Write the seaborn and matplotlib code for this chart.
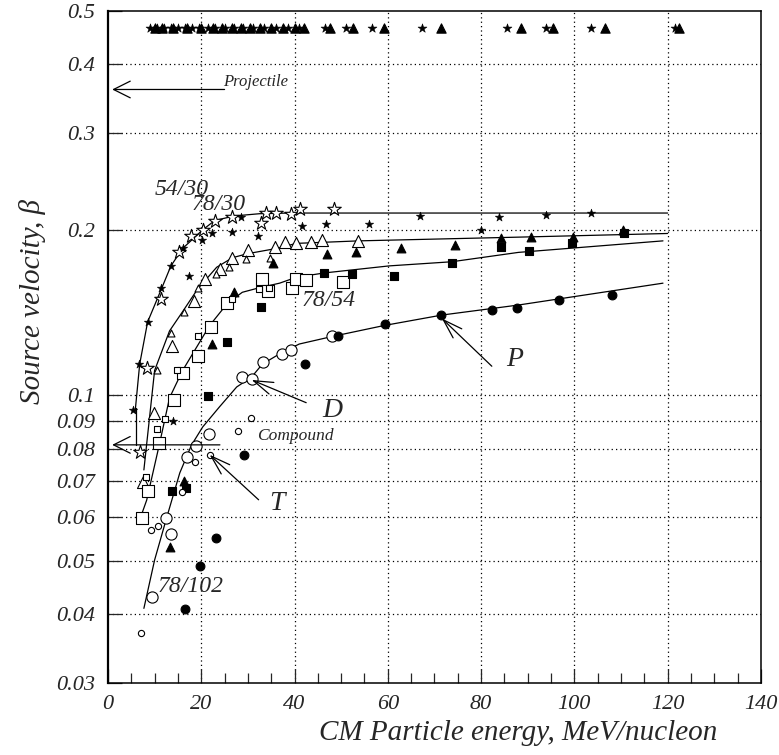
"""
Source velocity vs CM particle energy for the 54/30, 78/30, 78/54 and 78/102 systems,
with fitted curves and P / D / T markers.
"""

import numpy as np
import pandas as pd
import matplotlib
matplotlib.use('Agg')
import matplotlib.pyplot as plt
import seaborn as sns

# ---- data ----
# 54/30 : stars
star_open_x = [6.8, 8.3, 11.3, 15.2, 17.7, 20.3, 22.9, 26.5, 32.9, 33.8, 36.1, 39.3, 41.2, 48.5]
star_open_y = [0.079, 0.112, 0.150, 0.182, 0.195, 0.200, 0.208, 0.211, 0.206, 0.215, 0.215, 0.214, 0.218, 0.218]
star_fill_x = [5.3, 6.6, 8.5, 11.3, 13.5, 13.9, 16.0, 17.3, 20.1, 22.4, 26.7, 28.6, 32.1, 41.5, 46.8,
               56.0, 66.9, 79.9, 83.8, 94.0, 103.6]
star_fill_y = [0.094, 0.114, 0.136, 0.157, 0.172, 0.090, 0.185, 0.165, 0.192, 0.197, 0.198, 0.211, 0.195,
               0.203, 0.205, 0.205, 0.212, 0.200, 0.211, 0.213, 0.215]

# 78/30 : triangles
tri_open_x = [7.5, 9.8, 13.7, 18.4, 20.7, 24.1, 26.7, 30.1, 35.9, 38.0, 40.4, 43.6, 45.9, 53.6]
tri_open_y = [0.0696, 0.093, 0.123, 0.1485, 0.163, 0.170, 0.178, 0.184, 0.186, 0.190, 0.189, 0.190, 0.192, 0.191]
tri_small_x = [10.5, 13.5, 16.2, 19.2, 23.1, 25.9, 29.5, 34.8]
tri_small_y = [0.111, 0.130, 0.142, 0.157, 0.166, 0.171, 0.177, 0.178]
tri_fill_x = [13.2, 16.2, 22.4, 27.1, 35.3, 47.0, 53.2, 62.8, 74.4, 84.2, 90.8, 99.6, 110.5]
tri_fill_y = [0.053, 0.070, 0.124, 0.154, 0.174, 0.181, 0.182, 0.185, 0.188, 0.193, 0.194, 0.194, 0.200]

# 78/54 : squares
sq_open_x = [7.3, 8.5, 10.9, 14.1, 16.0, 19.4, 22.0, 25.6, 33.1, 34.4, 39.5, 40.4, 42.5, 50.4]
sq_open_y = [0.0599, 0.067, 0.082, 0.098, 0.110, 0.118, 0.133, 0.147, 0.163, 0.155, 0.157, 0.163, 0.162, 0.161]
sq_small_x = [8.1, 10.5, 12.2, 14.7, 19.2, 26.5, 32.3, 34.6]
sq_small_y = [0.071, 0.087, 0.0906, 0.111, 0.128, 0.150, 0.156, 0.157]
sq_fill_x = [13.7, 16.7, 21.4, 25.6, 32.9, 46.4, 52.4, 61.3, 73.7, 84.2, 90.2, 99.4, 110.7]
sq_fill_y = [0.067, 0.0679, 0.0997, 0.125, 0.145, 0.167, 0.166, 0.165, 0.174, 0.186, 0.183, 0.189, 0.197]

# 78/102 : circles
circ_open_x = [9.4, 12.4, 13.5, 16.9, 18.8, 21.6, 28.8, 30.8, 33.3, 37.4, 39.3, 48.1]
circ_open_y = [0.043, 0.0599, 0.056, 0.0773, 0.081, 0.085, 0.108, 0.107, 0.115, 0.119, 0.121, 0.128]
circ_small_x = [7.1, 9.2, 10.7, 15.8, 18.6, 21.8, 27.8, 30.6]
circ_small_y = [0.037, 0.057, 0.058, 0.0667, 0.0757, 0.078, 0.086, 0.091]
circ_fill_x = [16.5, 19.7, 23.1, 29.1, 42.3, 49.4, 59.4, 71.4, 82.3, 87.6, 96.8, 108.1]
circ_fill_y = [0.0409, 0.049, 0.055, 0.078, 0.114, 0.128, 0.135, 0.140, 0.143, 0.144, 0.149, 0.152]

# strip of markers along the top
top_y = 0.465
top_star_x = [9.0, 10.5, 12.0, 13.5, 15.0, 16.5, 18.0, 19.5, 21.5, 23.0, 25.0, 27.0, 29.0, 31.0, 33.5,
              36.0, 38.5, 41.0, 46.5, 51.0, 56.6, 67.3, 85.5, 94.0, 103.6, 121.5]
top_tri_x = [10.0, 11.5, 14.0, 17.0, 20.0, 22.5, 24.5, 26.5, 28.5, 30.5, 32.5, 35.0, 37.5, 40.0, 42.0,
             47.5, 52.5, 59.2, 71.4, 88.5, 95.5, 106.6, 122.5]

# fitted curves
fit_5430_x = [5.8, 6.8, 8.5, 11.3, 13.5, 16.0, 20.3, 22.9, 27.1, 32.5, 38.9, 120.0]
fit_5430_y = [0.093, 0.114, 0.136, 0.155, 0.172, 0.185, 0.200, 0.208, 0.212, 0.214, 0.2146, 0.2146]
fit_7830_x = [7.7, 10.0, 13.2, 16.0, 19.2, 23.3, 26.7, 29.9, 36.1, 40.4, 53.8, 88.0, 120.0]
fit_7830_y = [0.0732, 0.111, 0.131, 0.142, 0.156, 0.171, 0.178, 0.181, 0.185, 0.189, 0.191, 0.194, 0.197]
fit_7854_x = [6.8, 8.3, 11.1, 13.2, 16.0, 21.8, 25.6, 28.8, 32.5, 36.8, 40.4, 46.4, 60.3, 73.7, 88.0, 119.0]
fit_7854_y = [0.0594, 0.0645, 0.082, 0.099, 0.111, 0.134, 0.147, 0.154, 0.157, 0.160, 0.164, 0.167,
              0.172, 0.175, 0.182, 0.191]
fit_78102_x = [7.7, 10.0, 12.6, 15.4, 17.9, 20.3, 23.9, 27.6, 30.8, 33.1, 36.8, 41.0, 48.1, 59.2, 71.6,
               88.0, 119.0]
fit_78102_y = [0.041, 0.0502, 0.060, 0.0723, 0.0812, 0.0876, 0.0953, 0.1036, 0.108, 0.114, 0.119, 0.124,
               0.128, 0.134, 0.140, 0.146, 0.160]

y_ticks = [0.03, 0.04, 0.05, 0.06, 0.07, 0.08, 0.09, 0.1, 0.2, 0.3, 0.4, 0.5]
y_tick_labels = ['0.03', '0.04', '0.05', '0.06', '0.07', '0.08', '0.09', '0.1', '0.2', '0.3', '0.4', '0.5']
x_ticks = [0, 20, 40, 60, 80, 100, 120, 140]

# ---- plotting ----
sns.set_style('ticks')
plt.rcParams['font.family'] = ['Liberation Serif', 'DejaVu Serif']
plt.rcParams['font.style'] = 'italic'

fig = plt.figure(figsize=(7.79, 7.55), dpi=100)
ax = fig.add_axes([0.1386, 0.0954, 0.8382, 0.890])

ax.set_yscale('log')
ax.set_xlim(0, 140)
ax.set_ylim(0.03, 0.5)

# grid
for gx in x_ticks[1:-1]:
    ax.axvline(gx, color='black', lw=0.9, ls=(0, (1, 2.5)), zorder=0)
for gy in y_ticks[1:-1]:
    ax.axhline(gy, color='black', lw=0.9, ls=(0, (1, 2.5)), zorder=0)

# fitted curves
for cx, cy in [(fit_5430_x, fit_5430_y), (fit_7830_x, fit_7830_y),
               (fit_7854_x, fit_7854_y), (fit_78102_x, fit_78102_y)]:
    sns.lineplot(x=cx, y=cy, ax=ax, color='black', lw=0.9, sort=True, estimator=None, zorder=2)


def pts(xs, ys, marker, size, filled, lw=0.8):
    sns.scatterplot(x=xs, y=ys, ax=ax, marker=marker, s=size,
                    facecolor='black' if filled else 'white', edgecolor='black',
                    linewidth=lw, zorder=3)


pts(star_open_x, star_open_y, '*', 105, False, 0.8)
pts(star_fill_x, star_fill_y, '*', 40, True, 0.4)
pts(tri_open_x, tri_open_y, '^', 75, False)
pts(tri_small_x, tri_small_y, '^', 25, False)
pts(tri_fill_x, tri_fill_y, '^', 40, True)
pts(sq_open_x, sq_open_y, 's', 65, False)
pts(sq_small_x, sq_small_y, 's', 22, False)
pts(sq_fill_x, sq_fill_y, 's', 40, True)
pts(circ_open_x, circ_open_y, 'o', 65, False)
pts(circ_small_x, circ_small_y, 'o', 20, False)
pts(circ_fill_x, circ_fill_y, 'o', 40, True)
pts(top_star_x, [top_y] * len(top_star_x), '*', 45, True, 0.4)
pts(top_tri_x, [top_y] * len(top_tri_x), '^', 45, True)

# labels on curves
lab = dict(fontsize=17, style='italic', va='center', ha='left')
ax.text(10.0, 0.237, '54/30', **lab)
ax.text(17.9, 0.222, '78/30', **lab)
ax.text(41.5, 0.149, '78/54', **lab)
ax.text(10.7, 0.045, '78/102', **lab)
letter = dict(fontsize=20, style='italic', va='center', ha='left')
ax.text(85.3, 0.116, 'P', **letter)
ax.text(46.0, 0.094, 'D', **letter)
ax.text(34.6, 0.0637, 'T', **letter)

arr = dict(arrowstyle='->,head_length=1.4,head_width=0.45', color='black', lw=0.9,
           shrinkA=0, shrinkB=0)
ax.annotate('', xy=(71.6, 0.138), xytext=(82.3, 0.113), arrowprops=arr)
ax.annotate('', xy=(30.8, 0.1067), xytext=(42.5, 0.097), arrowprops=arr)
ax.annotate('', xy=(21.8, 0.078), xytext=(32.3, 0.0646), arrowprops=arr)

# projectile / compound markers
big_arr = dict(arrowstyle='->,head_length=1.2,head_width=0.6', color='black', lw=0.9,
               shrinkA=0, shrinkB=0)
ax.annotate('', xy=(0.9, 0.36), xytext=(25.0, 0.36), arrowprops=big_arr)
ax.text(24.6, 0.372, 'Projectile', fontsize=12, style='italic', va='center', ha='left')
ax.annotate('', xy=(0.9, 0.0813), xytext=(24.0, 0.0813), arrowprops=big_arr)
ax.plot([6.0, 6.0], [0.0949, 0.0813], color='black', lw=0.9)
ax.text(32.0, 0.0844, 'Compound', fontsize=12.5, style='italic', va='center', ha='left')

# axes and ticks
ax.set_yticks(y_ticks)
ax.set_yticklabels(y_tick_labels)
ax.yaxis.set_minor_locator(matplotlib.ticker.NullLocator())
ax.set_xticks(x_ticks)
ax.set_xticklabels([str(v) for v in x_ticks])
ax.xaxis.set_minor_locator(matplotlib.ticker.MultipleLocator(5))
ax.tick_params(axis='both', which='major', direction='in', length=10, width=0.9,
               labelsize=16, pad=9)
ax.tick_params(axis='x', which='minor', direction='in', length=7, width=0.9)
for sp in ax.spines.values():
    sp.set_linewidth(1.1)
    sp.set_color('black')
ax.spines['left'].set_linewidth(1.6)

ax.set_xlabel('CM Particle energy, MeV/nucleon', fontsize=21, style='italic')
ax.set_ylabel('Source velocity, β', fontsize=21, style='italic')
ax.xaxis.set_label_coords(0.628, -0.055)
ax.yaxis.set_label_coords(-0.095, 0.567)

fig.savefig('out.png', dpi=100)
